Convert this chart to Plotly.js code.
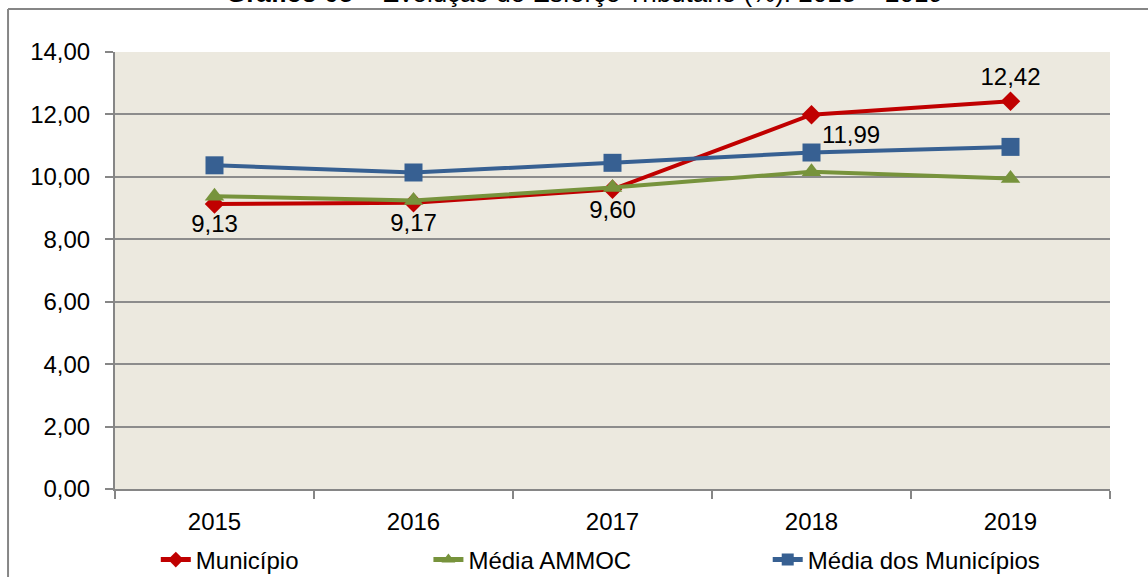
<!DOCTYPE html>
<html>
<head>
<meta charset="utf-8">
<script src="https://cdn.plot.ly/plotly-3.0.1.min.js"></script>
<style>html,body{margin:0;padding:0;background:#fff;}#chart{width:1148px;height:577px;}</style>
</head>
<body>
<div id="chart"></div>
<script>
var years = ['2015', '2016', '2017', '2018', '2019'];
var municipio = [9.13, 9.17, 9.60, 11.99, 12.42];
var mediaAmmoc = [9.38, 9.24, 9.66, 10.16, 9.95];
var mediaMunicipios = [10.37, 10.14, 10.45, 10.78, 10.96];
var municipioLabels = ['9,13', '9,17', '9,60', '11,99', '12,42'];
var yTickVals = [0, 2, 4, 6, 8, 10, 12, 14];

var FONT = 'Liberation Sans, Arial, sans-serif';

var traces = [
  {
    x: years, y: municipio, name: 'Município', type: 'scatter', mode: 'lines+markers+text',
    line: {color: '#C00000', width: 4},
    marker: {symbol: 'diamond', size: 15, color: '#C00000'},
    text: municipioLabels,
    textposition: ['bottom center', 'bottom center', 'bottom center', 'bottom right', 'top center'],
    textfont: {family: FONT, size: 24, color: '#000'},
    legend: 'legend', hoverinfo: 'skip', cliponaxis: false
  },
  {
    x: years, y: mediaAmmoc, name: 'Média AMMOC', type: 'scatter', mode: 'lines+markers',
    line: {color: '#77933C', width: 4},
    marker: {symbol: 'triangle-up', size: 17, color: '#77933C'},
    legend: 'legend2', hoverinfo: 'skip', cliponaxis: false
  },
  {
    x: years, y: mediaMunicipios, name: 'Média dos Municípios', type: 'scatter', mode: 'lines+markers',
    line: {color: '#376092', width: 4},
    marker: {symbol: 'square', size: 18, color: '#376092'},
    legend: 'legend3', hoverinfo: 'skip', cliponaxis: false
  }
];

function legendAt(x) {
  return {
    x: x, xref: 'paper', xanchor: 'left', y: -0.1625, yref: 'paper', yanchor: 'middle',
    orientation: 'h', bgcolor: 'rgba(0,0,0,0)', itemsizing: 'constant',
    font: {family: FONT, size: 24, color: '#000'}, tracegroupgap: 0
  };
}

var layout = {
  width: 1148, height: 577,
  margin: {l: 115, r: 38, t: 52, b: 88, pad: 0, autoexpand: false},
  paper_bgcolor: '#ffffff',
  plot_bgcolor: '#ECE9DF',
  separators: ',.',
  font: {family: FONT, size: 24, color: '#000'},
  showlegend: true,
  legend: legendAt(0.041),
  legend2: legendAt(0.315),
  legend3: legendAt(0.656),
  xaxis: {
    type: 'category', range: [-0.5, 4.5], tickson: 'boundaries',
    ticks: 'outside', ticklen: 8, tickwidth: 2, tickcolor: '#868686',
    showline: true, linecolor: '#868686', linewidth: 2,
    showgrid: false, zeroline: false, ticklabelstandoff: 10,
    tickfont: {family: FONT, size: 24, color: '#000'}
  },
  yaxis: {
    range: [0, 14], tickvals: yTickVals, tickformat: '.2f',
    ticks: 'outside', ticklen: 8, tickwidth: 2, tickcolor: '#868686',
    showline: true, linecolor: '#868686', linewidth: 2,
    showgrid: true, gridcolor: '#8C8C8C', gridwidth: 2, zeroline: false, ticklabelstandoff: 10,
    tickfont: {family: FONT, size: 24, color: '#000'}
  },
  shapes: [
    {type: 'line', xref: 'paper', yref: 'paper', x0: -0.1075, x1: 1.05, y0: 1.0984, y1: 1.0984,
     line: {color: '#868686', width: 2}},
    {type: 'line', xref: 'paper', yref: 'paper', x0: -0.1075, x1: -0.1075, y0: 1.0984, y1: -0.25,
     line: {color: '#868686', width: 2}}
  ],
  annotations: [
    {text: '<b>Gráfico 05</b> – Evolução do Esforço Tributário (%): 2015 – 2019',
     xref: 'paper', yref: 'paper', x: 0.4714, y: 1.134, xanchor: 'center', yanchor: 'middle',
     showarrow: false, font: {family: FONT, size: 26, color: '#000'}}
  ]
};

Plotly.newPlot('chart', traces, layout, {displayModeBar: false, staticPlot: true});
</script>
</body>
</html>
